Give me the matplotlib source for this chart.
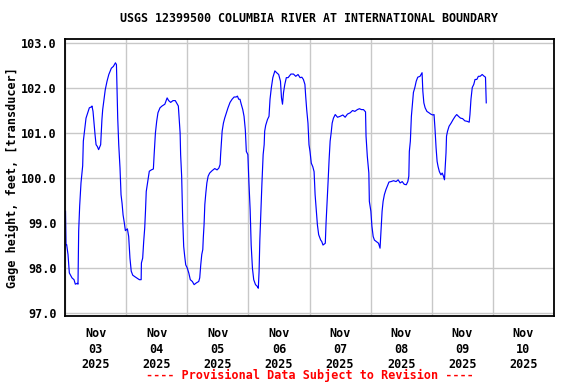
import matplotlib
matplotlib.use('Agg')
import matplotlib.pyplot as plt
import matplotlib.dates as mdates
import pandas as pd

# hours since 2025-11-03 00:00 and gage height (ft)
hours = [0.2, 0.4, 0.65, 1.18, 1.7, 2.75, 3.54, 4.06, 4.84, 5.1, 5.37, 5.76, 6.28, 6.94, 7.2,
         7.72, 8.25, 9.03, 9.56, 10.35, 10.6, 11.0, 11.4, 11.8, 12.2, 12.7, 13.2, 14.0, 14.5,
         14.8, 15.3, 15.8, 16.5, 17.2, 18.2, 19.0, 19.8, 20.2, 20.7, 21.1, 21.6, 22.0, 22.4,
         22.8, 23.3, 23.7, 24.5, 25.0, 25.5, 26.0, 26.6, 27.6, 29.2, 29.9, 30.0, 30.5, 30.9,
         31.3, 31.6, 31.9, 32.5, 33.1, 33.9, 34.7, 35.0, 35.5, 36.0, 36.5, 37.3, 38.1, 39.2,
         40.1, 40.7, 41.5, 42.4, 43.3, 44.1, 44.5, 44.8, 45.2, 45.4, 45.8, 46.2, 46.6, 47.0,
         47.4, 48.0, 48.6, 49.2, 50.0, 50.7, 51.6, 52.5, 52.9, 53.3, 53.7, 54.1, 54.3, 54.6,
         54.9, 55.3, 55.7, 56.2, 56.8, 57.7, 58.8, 59.7, 60.4, 60.9, 61.1, 61.7, 62.2, 62.7,
         63.4, 64.0, 64.8, 65.6, 66.4, 67.2, 67.7, 68.2, 68.7, 69.2, 69.8, 70.3, 70.8, 71.2,
         71.8, 72.2, 72.7, 73.1, 73.6, 74.1, 74.8, 75.5, 75.9, 76.2, 76.5, 76.9, 77.3, 77.8,
         78.2, 78.4, 78.8, 79.5, 80.1, 80.5, 81.0, 81.6, 82.4, 83.1, 83.9, 84.6, 85.0, 85.4,
         85.8, 86.3, 86.9, 87.6, 88.7, 89.7, 90.6, 91.5, 92.3, 93.0, 93.6, 94.2, 94.5, 94.9,
         95.4, 95.8, 96.2, 96.7, 97.3, 97.8, 98.2, 98.7, 99.1, 99.6, 100.4, 100.8, 101.3,
         102.2, 102.5, 102.8, 103.3, 103.7, 104.1, 104.5, 104.9, 105.4, 106.1, 107.0, 108.0,
         109.1, 110.0, 110.9, 112.0, 112.9, 113.8, 114.8, 115.6, 116.4, 117.2, 118.0, 118.2,
         118.7, 119.3, 119.5, 120.1, 120.5, 121.0, 121.5, 122.2, 123.1, 123.7, 124.1, 124.5,
         124.9, 125.4, 126.0, 126.5, 127.2, 128.0, 129.0, 130.0, 130.8, 131.6, 132.4, 133.2,
         134.0, 134.6, 135.0, 135.2, 135.6, 136.0, 136.4, 136.8, 137.4, 137.9, 138.5, 139.4,
         140.2, 140.5, 140.9, 141.4, 142.1, 142.9, 143.6, 144.4, 144.9, 145.3, 145.7, 146.1,
         146.5, 147.0, 147.6, 148.1, 148.6, 149.0, 149.3, 149.6, 149.8, 150.2, 150.8, 151.6,
         152.4, 153.2, 153.8, 154.5, 155.3, 156.1, 157.0, 157.9, 158.7, 159.0, 159.4, 159.9,
         160.5, 161.0, 161.7, 162.3, 163.0, 163.8, 164.6, 165.1, 165.4]
stage = [99.26, 98.52, 98.52, 98.30, 97.89, 97.78, 97.74, 97.64, 97.66, 97.64, 98.82, 99.38,
         99.89, 100.27, 100.82, 101.07, 101.33, 101.47, 101.56, 101.58, 101.60, 101.48, 101.22,
         100.96, 100.74, 100.70, 100.63, 100.74, 101.30, 101.52, 101.74, 101.96, 102.15, 102.30,
         102.44, 102.48, 102.56, 102.52, 101.33, 100.74, 100.22, 99.63, 99.44, 99.18, 99.00,
         98.83, 98.87, 98.70, 98.22, 97.93, 97.84, 97.80, 97.74, 97.74, 98.11, 98.22, 98.59,
         98.89, 99.26, 99.70, 99.92, 100.15, 100.18, 100.20, 100.52, 101.00, 101.26, 101.45,
         101.56, 101.60, 101.64, 101.78, 101.72, 101.68, 101.72, 101.72, 101.64, 101.60, 101.33,
         101.00, 100.52, 100.04, 99.11, 98.48, 98.26, 98.07, 98.00, 97.89, 97.74, 97.70, 97.63,
         97.67, 97.70, 97.78, 98.07, 98.30, 98.41, 98.67, 98.96, 99.41, 99.67, 99.89, 100.04,
         100.11, 100.16, 100.21, 100.18, 100.22, 100.30, 100.52, 101.04, 101.22, 101.33, 101.45,
         101.56, 101.68, 101.75, 101.80, 101.80, 101.82, 101.75, 101.75, 101.64, 101.52, 101.37,
         101.07, 100.59, 100.52, 99.92, 99.29, 98.51, 97.99, 97.74, 97.63, 97.59, 97.55, 97.92,
         98.62, 99.26, 99.85, 100.52, 100.74, 101.04, 101.17, 101.30, 101.37, 101.75, 102.00,
         102.23, 102.38, 102.34, 102.30, 102.15, 101.78, 101.64, 101.90, 102.08, 102.23, 102.23,
         102.31, 102.31, 102.26, 102.30, 102.23, 102.24, 102.19, 102.08, 101.82, 101.52, 101.22,
         100.74, 100.59, 100.33, 100.25, 100.14, 99.63, 99.26, 98.96, 98.74, 98.62, 98.59, 98.51,
         98.55, 99.00, 99.33, 99.92, 100.41, 100.82, 101.00, 101.22, 101.33, 101.41, 101.35,
         101.37, 101.40, 101.35, 101.42, 101.45, 101.50, 101.48, 101.52, 101.54, 101.52, 101.52,
         101.47, 100.93, 100.48, 100.11, 99.48, 99.26, 98.93, 98.70, 98.62, 98.59, 98.55, 98.44,
         98.85, 99.26, 99.48, 99.63, 99.74, 99.81, 99.91, 99.92, 99.94, 99.92, 99.96, 99.89,
         99.92, 99.86, 99.85, 99.92, 100.04, 100.59, 100.82, 101.37, 101.64, 101.90, 102.02,
         102.15, 102.24, 102.26, 102.34, 101.93, 101.67, 101.56, 101.48, 101.45, 101.42, 101.40,
         101.41, 101.07, 100.67, 100.37, 100.25, 100.14, 100.07, 100.11, 100.04, 99.96, 100.25,
         100.56, 100.93, 101.04, 101.15, 101.22, 101.30, 101.37, 101.41, 101.37, 101.33, 101.32,
         101.27, 101.26, 101.24, 101.41, 101.75, 102.01, 102.08, 102.19, 102.19, 102.26, 102.26,
         102.30, 102.26, 102.24, 101.67]

start = pd.Timestamp('2025-11-03')
times = start + pd.to_timedelta(hours, unit='h')

font = 'DejaVu Sans Mono'
fig = plt.figure(figsize=(5.76, 3.84), dpi=100)
ax = fig.add_axes([65 / 576, 1 - 316 / 384, 489 / 576, 277 / 384])

ax.plot(times, stage, color='#0000ff', linewidth=0.85)

ax.set_xlim(start, start + pd.Timedelta(days=8))
ax.set_ylim(96.933, 103.089)

ax.xaxis.set_major_locator(mdates.HourLocator(byhour=[12]))
ax.xaxis.set_major_formatter(mdates.DateFormatter('%b\n%d\n%Y'))
ax.xaxis.set_minor_locator(mdates.DayLocator())
ax.set_yticks([97, 98, 99, 100, 101, 102, 103])
ax.set_yticklabels(['97.0', '98.0', '99.0', '100.0', '101.0', '102.0', '103.0'])

ax.grid(which='minor', axis='x', color='#c8c8c8', linewidth=1.0)
ax.grid(which='major', axis='y', color='#c8c8c8', linewidth=1.0)
ax.tick_params(which='both', length=0)
ax.tick_params(axis='x', pad=8)
ax.tick_params(axis='y', pad=6)
for lbl in ax.get_xticklabels() + ax.get_yticklabels():
    lbl.set_family(font)
    lbl.set_fontweight('bold')
    lbl.set_fontsize(8.5)
for lbl in ax.get_xticklabels():
    lbl.set_linespacing(1.25)
for s in ax.spines.values():
    s.set_linewidth(1.3)

fig.text(309 / 576, 1 - 19 / 384, 'USGS 12399500 COLUMBIA RIVER AT INTERNATIONAL BOUNDARY',
         family=font, fontweight='bold', fontsize=8.4, ha='center', va='center')
fig.text(12 / 576, 1 - 178 / 384, 'Gage height, feet, [transducer]', rotation=90,
         family=font, fontweight='bold', fontsize=8.5, ha='center', va='center')
fig.text(310 / 576, 1 - 375 / 384, '---- Provisional Data Subject to Revision ----',
         family=font, fontweight='bold', fontsize=8.5, color='red', ha='center', va='center')

fig.savefig('out.png', dpi=100)
